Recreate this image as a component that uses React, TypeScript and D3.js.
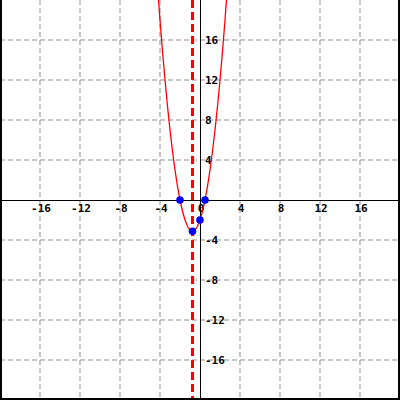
import * as d3 from 'd3';

const W = 400, H = 400;

// tick values (grid every 4 units)
const ticks = [-16, -12, -8, -4, 0, 4, 8, 12, 16];
const xLabels = [-16, -12, -8, -4, 0, 4, 8, 12, 16];
const yLabels = [-16, -12, -8, -4, 4, 8, 12, 16];

// parabola
const curveX = [-4.25, -4, -3.75, -3.5, -3.25, -3, -2.75, -2.5, -2.25, -2, -1.75, -1.5, -1.25, -1, -0.75, -0.5, -0.25, 0, 0.25, 0.5, 0.75, 1, 1.25, 1.5, 1.75, 2, 2.25, 2.5, 2.75];
const curveY = [21.375, 18, 14.875, 12, 9.375, 7, 4.875, 3, 1.375, 0, -1.125, -2, -2.625, -3, -3.125, -3, -2.625, -2, -1.125, 0, 1.375, 3, 4.875, 7, 9.375, 12, 14.875, 18, 21.375];

// marked points: roots, vertex, y-intercept
const pointX = [-2, 0.5, -0.75, 0];
const pointY = [0, 0, -3.125, -2];

const symmetryX = -0.75;

export default function App() {
  const x = d3.scaleLinear().domain([-20, 20]).range([0, W]);
  const y = d3.scaleLinear().domain([-20, 20]).range([H, 0]);

  const line = d3.line<number>()
    .x((_, i) => x(curveX[i]))
    .y((d) => y(d));

  const mono = '"DejaVu Sans Mono", "Liberation Mono", monospace';

  return (
    <svg width={W} height={H} style={{ position: 'absolute', left: 0, top: 0, background: '#fff' }}>
      <defs>
        <clipPath id="plot">
          <rect x={0} y={0} width={W} height={H} />
        </clipPath>
      </defs>

      {/* grid */}
      <g stroke="#b4b4b4" strokeWidth={1.5} strokeDasharray="5,3">
        {ticks.filter((t) => t !== 0).map((t) => (
          <line key={'v' + t} x1={x(t)} x2={x(t)} y1={0} y2={H} />
        ))}
        {ticks.filter((t) => t !== 0).map((t) => (
          <line key={'h' + t} x1={0} x2={W} y1={y(t)} y2={y(t)} />
        ))}
      </g>

      {/* axes */}
      <g stroke="#000" strokeWidth={1}>
        <line x1={0} x2={W} y1={y(0) + 0.5} y2={y(0) + 0.5} />
        <line x1={x(0) + 0.5} x2={x(0) + 0.5} y1={0} y2={H} />
      </g>

      {/* tick labels */}
      <g fontFamily={mono} fontWeight="bold" fontSize={11} fill="#000">
        {xLabels.map((t) => (
          <text key={'xl' + t} x={x(t) + 1} y={y(0) + 12} textAnchor="middle">{t}</text>
        ))}
        {yLabels.map((t) => (
          <text key={'yl' + t} x={x(0) + 5} y={y(t) + 4} textAnchor="start">{t}</text>
        ))}
      </g>

      {/* axis of symmetry */}
      <line x1={x(symmetryX)} x2={x(symmetryX)} y1={0} y2={H}
        stroke="#ff0000" strokeWidth={3} strokeDasharray="8,4" />

      {/* parabola */}
      <path d={line(curveY) ?? ''} fill="none" stroke="#ff0000" strokeWidth={1.3} clipPath="url(#plot)" />

      {/* points */}
      {pointX.map((px, i) => (
        <circle key={'p' + i} cx={x(px)} cy={y(pointY[i])} r={3.8} fill="#0000ff" />
      ))}

      {/* frame */}
      <g stroke="#000" strokeWidth={2}>
        <line x1={1} x2={1} y1={0} y2={H} />
        <line x1={W - 1} x2={W - 1} y1={0} y2={H} />
        <line x1={0} x2={W} y1={H - 1} y2={H - 1} />
      </g>
    </svg>
  );
}
